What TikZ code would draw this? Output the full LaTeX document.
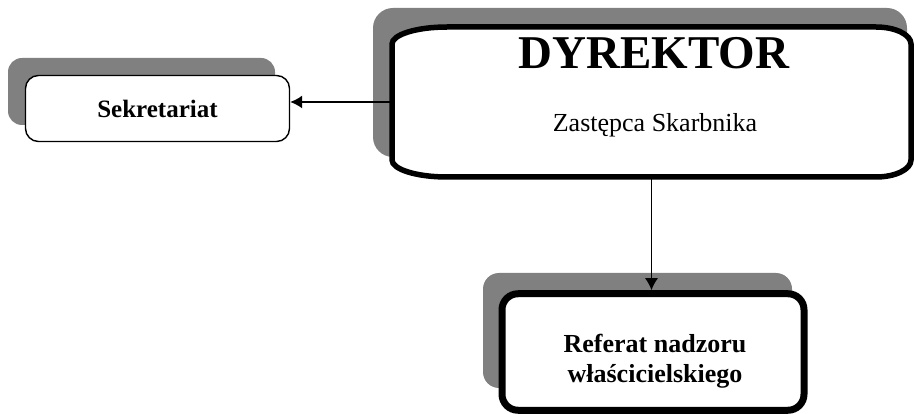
\documentclass[tikz,border=0pt]{standalone}
\usepackage{fontspec}
\setmainfont{Liberation Serif}
\usetikzlibrary{arrows.meta}
\definecolor{shadowgray}{HTML}{808080}

\begin{document}
\begin{tikzpicture}[x=1pt, y=1pt,
        box/.style={draw, fill=white, inner sep=0pt},
        conn/.style={line width=1.4pt, -{Latex[length=12pt, width=13pt]}}]
    \useasboundingbox (0, 0) rectangle (914, -414);

    % shadows behind the boxes
    \fill[shadowgray, rounded corners=14pt] (8, -58) rectangle (275, -125);
    \fill[shadowgray, rounded corners=20pt] (373, -8) rectangle (907, -157);
    \fill[shadowgray, rounded corners=16pt] (483, -273) rectangle (792, -388);

    % boxes
    \node[box, line width=1.4pt, rounded corners=13pt, minimum width=264, minimum height=66,
        font=\fontsize{25}{30}\selectfont\bfseries] (sek) at (157.5, -108.5) {Sekretariat};
    \node[inner sep=0pt, outer sep=0pt, minimum width=519, minimum height=150] (dyr) at (651.5, -102) {};
    \filldraw[fill=white, line width=5.5pt]
        ([xshift=55]dyr.north west) -- ([xshift=-35]dyr.north east)
        arc[start angle=90, end angle=0, x radius=35, y radius=17] -- ([yshift=17]dyr.south east)
        arc[start angle=0, end angle=-90, x radius=35, y radius=17] -- ([xshift=55]dyr.south west)
        arc[start angle=270, end angle=180, x radius=55, y radius=17] -- ([yshift=-17]dyr.north west)
        arc[start angle=180, end angle=90, x radius=55, y radius=17] -- cycle;
    \node[box, line width=7pt, rounded corners=16pt, minimum width=302, minimum height=116.5] (ref) at (653, -352) {};

    % texts
    \node[anchor=base, font=\fontsize{47}{56}\selectfont\bfseries] (dyrtitle) at ([xshift=2.5, yshift=33]dyr.center) {DYREKTOR};
    \node[anchor=base, font=\fontsize{26}{30}\selectfont] (dyrsub) at ([xshift=3.5, yshift=-30]dyr.center) {Zastępca Skarbnika};
    \node[align=center, inner sep=0pt, font=\fontsize{26}{30}\selectfont\bfseries] (reftext) at ([xshift=2, yshift=-9]ref.center) {Referat nadzoru\\właścicielskiego};

    % connectors
    \draw[conn] (dyr.west) -- (dyr.west -| sek.east);
    \draw[conn] (dyr.south) -- (dyr.south |- ref.north);
\end{tikzpicture}
\end{document}
